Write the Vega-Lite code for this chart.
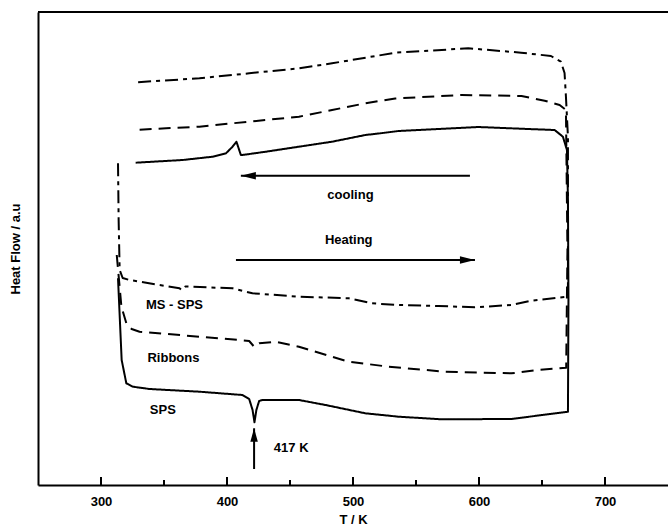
{
  "$schema": "https://vega.github.io/schema/vega-lite/v6.json",
  "width": 630,
  "height": 473,
  "autosize": {"type": "none"},
  "padding": {"left": 38, "top": 12, "right": 0, "bottom": 41},
  "background": "white",
  "config": {
    "view": {"stroke": null},
    "font": "Liberation Sans",
    "axis": {
      "grid": false,
      "domainColor": "black",
      "domainWidth": 2,
      "labelColor": "black",
      "labelFont": "Liberation Sans",
      "labelFontSize": 13,
      "labelFontWeight": "bold",
      "titleColor": "black",
      "titleFont": "Liberation Sans",
      "titleFontSize": 13,
      "titleFontWeight": "bold"
    }
  },
  "datasets": {
    "curves": [
      {"sample": "SPS", "i": 1, "T": 313.5, "v": 206.7},
      {"sample": "SPS", "i": 2, "T": 316.4, "v": 125},
      {"sample": "SPS", "i": 3, "T": 320.1, "v": 101.7},
      {"sample": "SPS", "i": 4, "T": 325.3, "v": 98.3},
      {"sample": "SPS", "i": 5, "T": 338.5, "v": 96},
      {"sample": "SPS", "i": 6, "T": 378.1, "v": 93.3},
      {"sample": "SPS", "i": 7, "T": 412.3, "v": 90},
      {"sample": "SPS", "i": 8, "T": 417.6, "v": 86},
      {"sample": "SPS", "i": 9, "T": 420.3, "v": 75},
      {"sample": "SPS", "i": 10, "T": 421.8, "v": 62.7},
      {"sample": "SPS", "i": 11, "T": 423.3, "v": 75},
      {"sample": "SPS", "i": 12, "T": 425.5, "v": 84},
      {"sample": "SPS", "i": 13, "T": 428.1, "v": 85},
      {"sample": "SPS", "i": 14, "T": 457.1, "v": 85},
      {"sample": "SPS", "i": 15, "T": 478.2, "v": 80},
      {"sample": "SPS", "i": 16, "T": 509.8, "v": 71.7},
      {"sample": "SPS", "i": 17, "T": 536.2, "v": 68.3},
      {"sample": "SPS", "i": 18, "T": 570.4, "v": 65.7},
      {"sample": "SPS", "i": 19, "T": 625.7, "v": 66},
      {"sample": "SPS", "i": 20, "T": 670.6, "v": 73.3},
      {"sample": "SPS", "i": 21, "T": 671, "v": 185},
      {"sample": "SPS", "i": 22, "T": 670.6, "v": 285},
      {"sample": "SPS", "i": 23, "T": 669.8, "v": 335},
      {"sample": "SPS", "i": 24, "T": 666.6, "v": 348.3},
      {"sample": "SPS", "i": 25, "T": 660, "v": 355},
      {"sample": "SPS", "i": 26, "T": 638.9, "v": 356},
      {"sample": "SPS", "i": 27, "T": 599.4, "v": 358},
      {"sample": "SPS", "i": 28, "T": 559.9, "v": 355.5},
      {"sample": "SPS", "i": 29, "T": 536.2, "v": 354},
      {"sample": "SPS", "i": 30, "T": 520.4, "v": 351.5},
      {"sample": "SPS", "i": 31, "T": 509.8, "v": 350},
      {"sample": "SPS", "i": 32, "T": 483.4, "v": 343.3},
      {"sample": "SPS", "i": 33, "T": 457.1, "v": 338.3},
      {"sample": "SPS", "i": 34, "T": 430.8, "v": 333.3},
      {"sample": "SPS", "i": 35, "T": 412.3, "v": 330},
      {"sample": "SPS", "i": 36, "T": 411, "v": 330},
      {"sample": "SPS", "i": 37, "T": 407.5, "v": 343.3},
      {"sample": "SPS", "i": 38, "T": 404.4, "v": 338.3},
      {"sample": "SPS", "i": 39, "T": 399.2, "v": 331.7},
      {"sample": "SPS", "i": 40, "T": 388.6, "v": 328.3},
      {"sample": "SPS", "i": 41, "T": 364.9, "v": 325},
      {"sample": "SPS", "i": 42, "T": 327.5, "v": 322.3},

      {"sample": "Ribbons", "i": 1, "T": 312.5, "v": 230},
      {"sample": "Ribbons", "i": 2, "T": 316.2, "v": 178.3},
      {"sample": "Ribbons", "i": 3, "T": 320.1, "v": 161.7},
      {"sample": "Ribbons", "i": 4, "T": 324.3, "v": 156},
      {"sample": "Ribbons", "i": 5, "T": 330.6, "v": 153.3},
      {"sample": "Ribbons", "i": 6, "T": 378.1, "v": 148.3},
      {"sample": "Ribbons", "i": 7, "T": 409.7, "v": 145},
      {"sample": "Ribbons", "i": 8, "T": 417.6, "v": 144},
      {"sample": "Ribbons", "i": 9, "T": 421.5, "v": 138.3},
      {"sample": "Ribbons", "i": 10, "T": 425.5, "v": 141.7},
      {"sample": "Ribbons", "i": 11, "T": 438.7, "v": 143.3},
      {"sample": "Ribbons", "i": 12, "T": 457.1, "v": 138.3},
      {"sample": "Ribbons", "i": 13, "T": 496.6, "v": 123.3},
      {"sample": "Ribbons", "i": 14, "T": 528.3, "v": 118.3},
      {"sample": "Ribbons", "i": 15, "T": 573.1, "v": 113.3},
      {"sample": "Ribbons", "i": 16, "T": 625.7, "v": 111.7},
      {"sample": "Ribbons", "i": 17, "T": 646.8, "v": 115},
      {"sample": "Ribbons", "i": 18, "T": 669.2, "v": 117.3},
      {"sample": "Ribbons", "i": 19, "T": 670.2, "v": 235},
      {"sample": "Ribbons", "i": 20, "T": 669, "v": 375},
      {"sample": "Ribbons", "i": 21, "T": 664, "v": 380},
      {"sample": "Ribbons", "i": 22, "T": 652.1, "v": 384.3},
      {"sample": "Ribbons", "i": 23, "T": 633.7, "v": 389},
      {"sample": "Ribbons", "i": 24, "T": 586.2, "v": 390},
      {"sample": "Ribbons", "i": 25, "T": 533.5, "v": 386.5},
      {"sample": "Ribbons", "i": 26, "T": 509.8, "v": 381.7},
      {"sample": "Ribbons", "i": 27, "T": 483.4, "v": 375},
      {"sample": "Ribbons", "i": 28, "T": 457.1, "v": 368.3},
      {"sample": "Ribbons", "i": 29, "T": 430.8, "v": 365},
      {"sample": "Ribbons", "i": 30, "T": 404.4, "v": 361.7},
      {"sample": "Ribbons", "i": 31, "T": 378.1, "v": 358.3},
      {"sample": "Ribbons", "i": 32, "T": 351.7, "v": 356.7},
      {"sample": "Ribbons", "i": 33, "T": 327.5, "v": 355},

      {"sample": "MS - SPS", "i": 1, "T": 313.5, "v": 321.7},
      {"sample": "MS - SPS", "i": 2, "T": 314, "v": 265},
      {"sample": "MS - SPS", "i": 3, "T": 314.8, "v": 215},
      {"sample": "MS - SPS", "i": 4, "T": 317.2, "v": 207},
      {"sample": "MS - SPS", "i": 5, "T": 322.7, "v": 205},
      {"sample": "MS - SPS", "i": 6, "T": 362.3, "v": 196.7},
      {"sample": "MS - SPS", "i": 7, "T": 363.8, "v": 195},
      {"sample": "MS - SPS", "i": 8, "T": 367, "v": 198.5},
      {"sample": "MS - SPS", "i": 9, "T": 404.4, "v": 196.7},
      {"sample": "MS - SPS", "i": 10, "T": 420.2, "v": 191.7},
      {"sample": "MS - SPS", "i": 11, "T": 457.1, "v": 188.3},
      {"sample": "MS - SPS", "i": 12, "T": 496.6, "v": 186.7},
      {"sample": "MS - SPS", "i": 13, "T": 515.1, "v": 181.7},
      {"sample": "MS - SPS", "i": 14, "T": 536.2, "v": 180},
      {"sample": "MS - SPS", "i": 15, "T": 567.8, "v": 179},
      {"sample": "MS - SPS", "i": 16, "T": 596.8, "v": 177.7},
      {"sample": "MS - SPS", "i": 17, "T": 625.7, "v": 180},
      {"sample": "MS - SPS", "i": 18, "T": 641.5, "v": 184.3},
      {"sample": "MS - SPS", "i": 19, "T": 670.6, "v": 188.3},
      {"sample": "MS - SPS", "i": 20, "T": 670.6, "v": 348},
      {"sample": "MS - SPS", "i": 21, "T": 669, "v": 388.3},
      {"sample": "MS - SPS", "i": 22, "T": 667.9, "v": 412},
      {"sample": "MS - SPS", "i": 23, "T": 665, "v": 423.3},
      {"sample": "MS - SPS", "i": 24, "T": 657.1, "v": 429},
      {"sample": "MS - SPS", "i": 25, "T": 633.4, "v": 432.3},
      {"sample": "MS - SPS", "i": 26, "T": 591.5, "v": 436.7},
      {"sample": "MS - SPS", "i": 27, "T": 533.6, "v": 432.3},
      {"sample": "MS - SPS", "i": 28, "T": 483.4, "v": 421.7},
      {"sample": "MS - SPS", "i": 29, "T": 457.1, "v": 416.7},
      {"sample": "MS - SPS", "i": 30, "T": 417.6, "v": 411.7},
      {"sample": "MS - SPS", "i": 31, "T": 378.1, "v": 406.7},
      {"sample": "MS - SPS", "i": 32, "T": 327.5, "v": 402.7}
    ],
    "arrows": [
      {"name": "cooling", "T1": 592.8, "T2": 411, "v1": 309.3, "v2": 309.3, "dir": "left"},
      {"name": "heating", "T1": 407.1, "T2": 596.8, "v1": 225, "v2": 225, "dir": "right"},
      {"name": "417 K", "T1": 421.5, "T2": 421.5, "v1": 16, "v2": 56.7, "dir": "up"}
    ],
    "labels": [
      {"text": "MS - SPS", "T": 358.3, "v": 180, "align": "center"},
      {"text": "Ribbons", "T": 357.5, "v": 126.7, "align": "center"},
      {"text": "SPS", "T": 349.1, "v": 75, "align": "center"},
      {"text": "cooling", "T": 498, "v": 290, "align": "center"},
      {"text": "Heating", "T": 496.6, "v": 245, "align": "center"},
      {"text": "417 K", "T": 437.2, "v": 37, "align": "left"}
    ]
  },
  "layer": [
    {
      "data": {"name": "curves"},
      "mark": {"type": "line", "color": "black", "strokeWidth": 2, "strokeCap": "butt", "strokeJoin": "round"},
      "encoding": {
        "x": {
          "field": "T", "type": "quantitative", "title": "T / K",
          "scale": {"domain": [250, 750], "nice": false, "zero": false},
          "axis": {
            "values": [300, 400, 500, 600, 700],
            "ticks": false,
            "labelPadding": 10,
            "titlePadding": 5,
            "labelFlush": false
          }
        },
        "y": {
          "field": "v", "type": "quantitative", "title": "Heat Flow / a.u",
          "scale": {"domain": [0, 473], "nice": false, "zero": false},
          "axis": {"labels": false, "ticks": false, "titlePadding": 16}
        },
        "order": {"field": "i", "type": "quantitative"},
        "detail": {"field": "sample", "type": "nominal"},
        "strokeDash": {
          "field": "sample", "type": "nominal",
          "scale": {"domain": ["SPS", "Ribbons", "MS - SPS"], "range": [[1, 0], [12, 7], [13, 5, 4, 5]]},
          "legend": null
        }
      }
    },
    {
      "data": {"values": [{"tickT": 300}, {"tickT": 400}, {"tickT": 500}, {"tickT": 600}, {"tickT": 700}]},
      "mark": {"type": "rule", "color": "black", "strokeWidth": 2},
      "encoding": {
        "x": {"field": "tickT", "type": "quantitative", "title": "T / K"},
        "y": {"datum": 0, "type": "quantitative"},
        "y2": {"datum": 8}
      }
    },
    {
      "data": {"values": [{"tickT": 350}, {"tickT": 450}, {"tickT": 550}, {"tickT": 650}]},
      "mark": {"type": "rule", "color": "black", "strokeWidth": 2},
      "encoding": {
        "x": {"field": "tickT", "type": "quantitative", "title": "T / K"},
        "y": {"datum": 0, "type": "quantitative"},
        "y2": {"datum": 5}
      }
    },
    {
      "data": {"name": "arrows"},
      "mark": {"type": "rule", "color": "black", "strokeWidth": 2},
      "encoding": {
        "x": {"field": "T1", "type": "quantitative", "title": "T / K"},
        "x2": {"field": "T2"},
        "y": {"field": "v1", "type": "quantitative", "title": "Heat Flow / a.u"},
        "y2": {"field": "v2"}
      }
    },
    {
      "data": {"name": "arrows"},
      "mark": {"type": "point", "filled": true, "color": "black", "opacity": 1, "size": 225, "strokeWidth": 0},
      "encoding": {
        "x": {"field": "T2", "type": "quantitative", "title": "T / K"},
        "y": {"field": "v2", "type": "quantitative", "title": "Heat Flow / a.u"},
        "shape": {
          "field": "dir", "type": "nominal",
          "scale": {"domain": ["left", "right", "up"], "range": ["M0,0L2,-0.5L2,0.5Z", "M0,0L-2,-0.5L-2,0.5Z", "M0,0L-0.5,1.8L0.5,1.8Z"]},
          "legend": null
        }
      }
    },
    {
      "data": {"name": "labels"},
      "transform": [{"filter": "datum.align === 'center'"}],
      "mark": {"type": "text", "font": "Liberation Sans", "fontSize": 13, "fontWeight": "bold", "color": "black", "baseline": "middle", "align": "center"},
      "encoding": {
        "x": {"field": "T", "type": "quantitative", "title": "T / K"},
        "y": {"field": "v", "type": "quantitative", "title": "Heat Flow / a.u"},
        "text": {"field": "text"}
      }
    },
    {
      "data": {"name": "labels"},
      "transform": [{"filter": "datum.align === 'left'"}],
      "mark": {"type": "text", "font": "Liberation Sans", "fontSize": 13, "fontWeight": "bold", "color": "black", "baseline": "middle", "align": "left"},
      "encoding": {
        "x": {"field": "T", "type": "quantitative", "title": "T / K"},
        "y": {"field": "v", "type": "quantitative", "title": "Heat Flow / a.u"},
        "text": {"field": "text"}
      }
    },
    {
      "data": {"values": [{}]},
      "mark": {"type": "rule", "color": "black", "strokeWidth": 2},
      "encoding": {"y": {"datum": 473}}
    }
  ]
}
